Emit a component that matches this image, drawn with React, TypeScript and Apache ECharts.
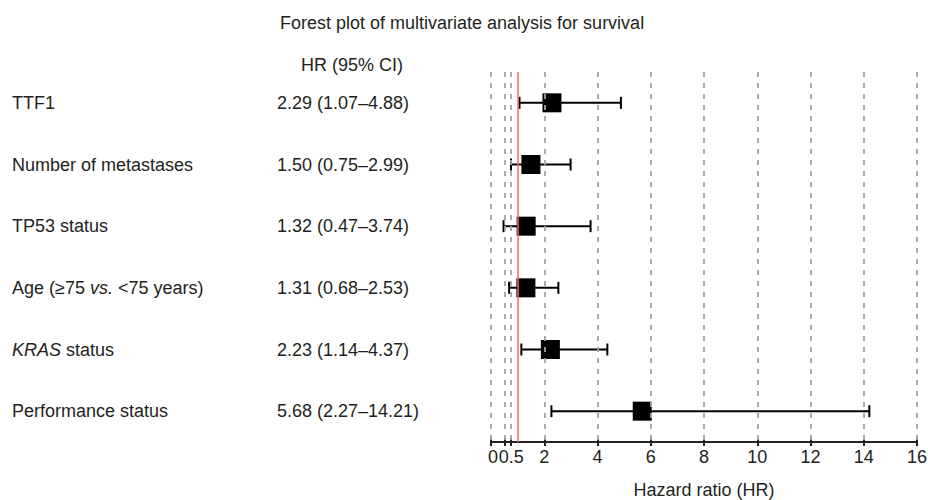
import React, { useEffect, useRef } from "react";
import * as echarts from "echarts";

const variables = [
  "TTF1",
  "Number of metastases",
  "TP53 status",
  "Age (≥75 vs. <75 years)",
  "KRAS status",
  "Performance status",
];
const hrValues = [2.29, 1.5, 1.32, 1.31, 2.23, 5.68];
const ciLow = [1.07, 0.75, 0.47, 0.68, 1.14, 2.27];
const ciHigh = [4.88, 2.99, 3.74, 2.53, 4.37, 14.21];
const gridLineValues = [0, 0.5, 0.75, 2, 4, 6, 8, 10, 12, 14, 16];
const tickLabelValues = [0, 0.5, 2, 4, 6, 8, 10, 12, 14, 16];
const referenceValue = 1;

const FONT = "'Liberation Sans', Arial, Helvetica, sans-serif";
const TEXT = "#231f20";

export default function App() {
  const ref = useRef<HTMLDivElement>(null);
  useEffect(() => {
    if (!ref.current) return;
    const chart = echarts.init(ref.current, undefined, { renderer: "svg" });
    const hrText = hrValues.map(
      (v, i) => `${v.toFixed(2)} (${ciLow[i].toFixed(2)}–${ciHigh[i].toFixed(2)})`
    );
    const labelFormatter = (v: string) => {
      if (v.startsWith("Age")) return "Age (≥75 {i|vs.} <75 years)";
      if (v.startsWith("KRAS")) return "{i|KRAS} status";
      return v;
    };
    const option: any = {
      animation: false,
      textStyle: { fontFamily: FONT },
      title: [
        {
          text: "Forest plot of multivariate analysis for survival",
          left: 275,
          top: 9,
          textStyle: { fontSize: 18, fontWeight: "normal", color: TEXT, fontFamily: FONT },
        },
        {
          text: "HR (95% CI)",
          left: 296,
          top: 51,
          textStyle: { fontSize: 18, fontWeight: "normal", color: TEXT, fontFamily: FONT },
        },
      ],
      grid: {
        left: 491,
        right: 11,
        top: 72,
        bottom: 58,
        containLabel: false,
        outerBoundsMode: "none",
      },
      xAxis: [
        {
          type: "value",
          min: 0,
          max: 16,
          interval: 2,
          position: "bottom",
          name: "Hazard ratio (HR)",
          nameLocation: "middle",
          nameGap: 39,
          nameTextStyle: { fontSize: 18, color: TEXT, fontFamily: FONT },
          axisLine: { show: true, lineStyle: { color: "#222", width: 2 } },
          axisTick: {
            show: true,
            length: 4,
            inside: false,
            customValues: gridLineValues,
            lineStyle: { color: "#222", width: 2 },
          },
          axisLabel: {
            show: true,
            margin: 6,
            fontSize: 18,
            color: TEXT,
            fontFamily: FONT,
            customValues: tickLabelValues,
            formatter: (v: number) =>
              v === 0.5 ? "{s|0.5}" : v === 0 ? "{z|0}" : String(v),
            rich: {
              s: { padding: [0, 0, 0, 14], fontSize: 18, color: TEXT, fontFamily: FONT },
              z: { padding: [0, 0, 0, 4], fontSize: 18, color: TEXT, fontFamily: FONT },
            },
          },
          splitLine: { show: false },
        },
        {
          type: "value",
          min: 0,
          max: 16,
          interval: 2,
          position: "bottom",
          axisLine: { show: false },
          axisTick: {
            show: true,
            inside: true,
            length: 4,
            customValues: gridLineValues,
            lineStyle: { color: "#222", width: 2 },
          },
          axisLabel: { show: false },
          splitLine: { show: false },
        },
      ],
      yAxis: [
        {
          type: "category",
          data: variables,
          inverse: true,
          position: "left",
          axisLine: { show: false },
          axisTick: { show: false },
          splitLine: { show: false },
          axisLabel: {
            show: true,
            align: "left",
            margin: 479,
            fontSize: 18,
            color: TEXT,
            fontFamily: FONT,
            formatter: labelFormatter,
            rich: {
              i: { fontStyle: "italic", fontSize: 18, color: TEXT, fontFamily: FONT },
            },
          },
        },
        {
          type: "category",
          data: hrText,
          inverse: true,
          position: "left",
          axisLine: { show: false },
          axisTick: { show: false },
          splitLine: { show: false },
          axisLabel: {
            show: true,
            align: "left",
            margin: 214,
            fontSize: 18,
            color: TEXT,
            fontFamily: FONT,
          },
        },
      ],
      series: [
        {
          type: "line",
          data: [],
          z: 1,
          silent: true,
          markLine: {
            silent: true,
            symbol: "none",
            label: { show: false },
            data: [
              ...gridLineValues.map((v) => ({
                xAxis: v,
                lineStyle: { color: "#a3a3a3", type: [5, 6], width: 1.8 },
              })),
              {
                xAxis: referenceValue,
                lineStyle: { color: "#f06a6a", type: "solid", width: 1.5 },
              },
            ],
          },
        },
        {
          type: "custom",
          z: 3,
          encode: { x: [0, 1], y: 2 },
          data: variables.map((_, i) => [ciLow[i], ciHigh[i], i]),
          renderItem: (params: any, api: any) => {
            const a = api.coord([api.value(0), api.value(2)]);
            const b = api.coord([api.value(1), api.value(2)]);
            const cap = 6;
            const style = { stroke: "#000", lineWidth: 2 };
            return {
              type: "group",
              children: [
                { type: "line", shape: { x1: a[0], y1: a[1], x2: b[0], y2: b[1] }, style },
                { type: "line", shape: { x1: a[0], y1: a[1] - cap, x2: a[0], y2: a[1] + cap }, style },
                { type: "line", shape: { x1: b[0], y1: b[1] - cap, x2: b[0], y2: b[1] + cap }, style },
              ],
            };
          },
        },
        {
          type: "scatter",
          z: 4,
          symbol: "rect",
          symbolSize: 19,
          itemStyle: { color: "#000", opacity: 1 },
          data: hrValues.map((v, i) => [v, i]),
        },
      ],
    };
    chart.setOption(option);
    return () => chart.dispose();
  }, []);
  return (
    <div
      ref={ref}
      style={{ position: "absolute", left: 0, top: 0, width: 928, height: 500 }}
    />
  );
}
